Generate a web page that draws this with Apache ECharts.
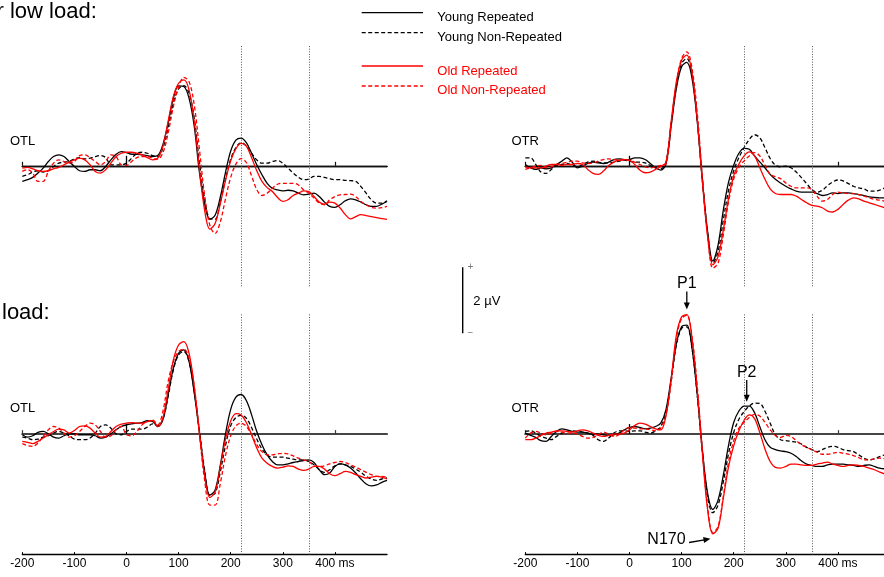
<!DOCTYPE html>
<html><head><meta charset="utf-8">
<script src="https://cdn.jsdelivr.net/npm/echarts@6/dist/echarts.min.js"></script>
<style>html,body{margin:0;padding:0;background:#fff}#c{width:884px;height:577px}</style>
</head><body><div id="c"></div>
<script>
// ---------- DATA ----------
const times = [-200,-190,-180,-170,-160,-150,-140,-130,-120,-110,-100,-90,-80,-70,-60,-50,-40,-30,-20,-10,0,10,20,30,40,50,60,70,80,90,100,110,120,130,140,150,160,170,180,190,200,210,220,230,240,250,260,270,280,290,300,310,320,330,340,350,360,370,380,390,400,410,420,430,440,450,460,470,480,490,500];
const xTicks = [-200,-100,0,100,200,300,400];
const zeroTicksSmall = [-200,400];
const zeroTickMain = [0];
const markerTimes = [220,350];
const seriesNames = ['Young Repeated','Young Non-Repeated','Old Repeated','Old Non-Repeated'];
const panelLabels = ['OTL','OTR','OTL','OTR'];
const loadTitles = ['r low load:','load:'];
const annotNames = ['P1','P2','N170'];
const annotTimes = [110,225,160];
const annotValues = [3.62,0.86,-3.02];
const scaleBarValue = 2;

// top-left (OTL, low load)
const TL_YR = [-0.47,-0.42,-0.35,-0.22,-0.07,0.13,0.28,0.33,0.28,0.13,
 -0.02,-0.15,-0.17,-0.12,-0.12,-0.15,-0.02,0.18,0.35,0.43,
 0.40,0.35,0.35,0.33,0.31,0.28,0.31,0.65,1.30,2.05,
 2.42,2.40,2.05,1.20,-0.20,-1.15,-1.62,-1.50,-0.95,-0.20,
 0.45,0.78,0.84,0.70,0.38,0.03,-0.27,-0.53,-0.68,-0.73,
 -0.76,-0.74,-0.76,-0.83,-0.88,-0.86,-0.83,-0.93,-1.10,-1.23,
 -1.26,-1.18,-1.06,-1.00,-1.03,-1.10,-1.18,-1.23,-1.23,-1.16,
 -1.08];
const TL_YN = [-0.32,-0.27,-0.19,-0.15,-0.19,-0.15,-0.02,0.08,0.11,0.13,
 0.21,0.25,0.21,0.23,0.28,0.31,0.25,0.03,0.03,0.03,
 0.08,0.23,0.38,0.41,0.38,0.31,0.28,0.55,1.15,1.90,
 2.33,2.43,2.20,1.45,0.10,-1.00,-1.60,-1.62,-1.10,-0.40,
 0.20,0.55,0.70,0.60,0.38,0.18,0.08,0.08,0.13,0.16,
 0.08,-0.07,-0.22,-0.35,-0.42,-0.40,-0.32,-0.32,-0.35,-0.39,
 -0.42,-0.42,-0.44,-0.45,-0.47,-0.63,-0.83,-1.03,-1.13,-1.13,
 -1.06];
const TL_OR = [-0.07,-0.05,-0.09,-0.15,-0.17,-0.15,-0.09,-0.05,0.03,0.11,
 0.18,0.23,0.18,0.03,-0.17,-0.22,-0.12,0.08,0.28,0.38,
 0.41,0.41,0.38,0.33,0.25,0.18,0.23,0.60,1.35,2.10,
 2.50,2.60,2.30,1.35,-0.10,-1.35,-1.92,-1.75,-1.15,-0.45,
 0.15,0.52,0.68,0.60,0.25,-0.15,-0.47,-0.66,-0.78,-0.96,
 -1.08,-1.03,-0.90,-0.83,-0.76,-0.78,-0.93,-1.10,-1.16,-1.10,
 -1.13,-1.28,-1.48,-1.61,-1.54,-1.48,-1.51,-1.54,-1.57,-1.60,
 -1.62];
const TL_ON = [-0.17,-0.12,-0.22,-0.47,-0.47,-0.17,0.08,0.18,0.13,0.08,
 0.13,0.31,0.33,0.25,0.13,0.03,0.13,0.33,0.28,0.03,
 0.01,0.13,0.25,0.28,0.28,0.23,0.20,0.40,1.00,1.80,
 2.38,2.68,2.55,1.85,0.50,-0.90,-1.80,-2.05,-1.70,-1.00,
 -0.35,0.05,0.22,0.10,-0.30,-0.72,-0.90,-0.83,-0.68,-0.56,
 -0.53,-0.53,-0.53,-0.58,-0.73,-0.83,-0.98,-1.13,-1.18,-1.03,
 -0.93,-0.88,-0.87,-0.86,-0.93,-1.08,-1.18,-1.26,-1.28,-1.27,
 -1.23];
// top-right (OTR, low load)
const TR_YR = [0.04,-0.06,-0.11,-0.06,-0.09,-0.06,0.04,0.14,0.24,0.11,
 -0.06,-0.01,0.07,0.11,0.09,0.07,0.11,0.19,0.21,0.19,
 0.19,0.24,0.24,0.19,0.07,-0.06,-0.13,0.05,1.20,2.35,
 3.00,3.13,2.65,1.35,-0.45,-2.00,-2.88,-2.40,-1.35,-0.50,
 0.02,0.38,0.53,0.50,0.30,0.12,-0.06,-0.26,-0.41,-0.52,
 -0.62,-0.70,-0.77,-0.80,-0.80,-0.80,-0.84,-0.90,-0.87,-0.82,
 -0.84,-0.82,-0.82,-0.84,-0.87,-0.90,-0.94,-0.96,-0.97,-0.97,
 -0.97];
const TR_YN = [0.24,0.24,0.04,-0.19,-0.23,-0.11,0.01,0.04,0.07,0.01,
 -0.03,0.04,0.11,0.14,0.11,0.09,0.09,0.11,0.14,0.17,
 0.14,0.11,0.11,0.09,0.01,-0.06,-0.09,0.10,1.30,2.45,
 3.10,3.25,2.75,1.40,-0.45,-2.05,-2.95,-2.60,-1.65,-0.75,
 -0.15,0.25,0.55,0.80,0.94,0.85,0.55,0.22,0.02,-0.03,
 -0.01,-0.06,-0.19,-0.36,-0.54,-0.72,-0.80,-0.74,-0.60,-0.49,
 -0.43,-0.46,-0.54,-0.62,-0.67,-0.70,-0.77,-0.77,-0.74,-0.67,
 -0.62];
const TR_OR = [-0.03,-0.06,-0.06,-0.06,-0.01,0.04,0.04,0.01,0.04,0.04,
 0.07,0.04,-0.11,-0.23,-0.26,-0.16,0.01,0.11,0.17,0.19,
 0.17,0.04,-0.13,-0.21,-0.19,-0.11,-0.02,0.10,1.35,2.55,
 3.20,3.35,2.80,1.40,-0.50,-2.15,-3.00,-2.75,-1.95,-1.00,
 -0.30,0.05,0.30,0.42,0.30,-0.05,-0.41,-0.70,-0.84,-0.87,
 -0.87,-0.87,-0.92,-1.02,-1.12,-1.20,-1.22,-1.27,-1.37,-1.40,
 -1.32,-1.17,-1.04,-0.97,-1.00,-1.07,-1.12,-1.17,-1.22,-1.27,
 -1.30];
const TR_ON = [-0.11,-0.06,-0.01,0.01,-0.06,-0.03,0.04,0.07,0.11,0.14,
 0.14,0.09,0.07,0.09,0.14,0.19,0.21,0.19,0.17,0.17,
 0.17,0.11,0.04,-0.03,-0.06,-0.03,0.01,0.05,1.25,2.50,
 3.25,3.45,2.95,1.60,-0.35,-2.10,-3.10,-2.95,-2.10,-1.10,
 -0.40,-0.05,0.15,0.30,0.40,0.30,0.02,-0.26,-0.33,-0.39,
 -0.52,-0.62,-0.67,-0.67,-0.67,-0.72,-0.92,-1.07,-1.02,-0.87,
 -0.80,-0.82,-0.84,-0.84,-0.87,-0.92,-0.97,-1.02,-1.04,-1.07,
 -1.10];
// bottom-left (OTL, high load)
const BL_YR = [-0.02,-0.09,-0.05,0.05,0.08,0.01,-0.09,-0.12,-0.05,0.01,
 0.01,-0.02,-0.02,-0.02,-0.05,-0.12,-0.09,0.01,0.13,0.23,
 0.28,0.31,0.33,0.35,0.41,0.38,0.23,0.45,1.20,2.00,
 2.45,2.55,2.20,1.25,0.05,-1.15,-1.85,-1.70,-0.95,0.00,
 0.75,1.12,1.20,1.02,0.59,0.08,-0.32,-0.63,-0.83,-0.93,
 -0.93,-0.90,-0.86,-0.83,-0.80,-0.78,-0.86,-1.08,-1.23,-1.18,
 -0.98,-0.90,-0.93,-1.03,-1.18,-1.36,-1.51,-1.57,-1.54,-1.46,
 -1.40];
const BL_YN = [-0.09,-0.12,-0.17,-0.15,-0.09,-0.05,0.03,0.08,0.03,-0.05,
 -0.15,-0.17,-0.17,-0.12,0.03,0.23,0.28,0.18,0.01,-0.02,
 0.08,0.15,0.15,0.15,0.21,0.31,0.25,0.45,1.15,1.95,
 2.40,2.50,2.20,1.30,0.10,-1.10,-1.85,-1.80,-1.15,-0.35,
 0.25,0.50,0.57,0.48,0.20,-0.15,-0.45,-0.63,-0.70,-0.70,
 -0.70,-0.73,-0.76,-0.78,-0.78,-0.83,-0.93,-1.08,-1.16,-1.08,
 -0.96,-0.90,-0.93,-0.98,-1.06,-1.16,-1.28,-1.36,-1.40,-1.36,
 -1.33];
const BL_OR = [-0.22,-0.25,-0.29,-0.22,-0.12,-0.02,0.08,0.15,0.13,0.03,
 0.11,0.23,0.25,0.18,0.03,-0.09,-0.07,0.08,0.23,0.30,
 0.33,0.35,0.33,0.33,0.38,0.41,0.23,0.50,1.35,2.25,
 2.70,2.80,2.45,1.45,0.05,-1.25,-1.92,-1.75,-1.00,-0.15,
 0.40,0.62,0.58,0.35,-0.02,-0.42,-0.73,-0.88,-0.98,-1.03,
 -1.00,-0.96,-0.98,-1.06,-1.10,-1.06,-0.98,-0.98,-1.06,-1.20,
 -1.26,-1.20,-1.13,-1.16,-1.23,-1.28,-1.33,-1.30,-1.28,-1.30,
 -1.36];
const BL_ON = [-0.29,-0.35,-0.37,-0.27,-0.07,0.13,0.23,0.18,0.03,-0.09,
 -0.05,0.08,0.23,0.33,0.28,0.08,-0.09,-0.05,0.13,0.23,
 -0.02,-0.05,0.08,0.28,0.38,0.43,0.28,0.70,1.60,2.20,
 2.50,2.57,2.30,1.45,0.00,-1.40,-2.15,-2.15,-1.50,-0.65,
 -0.05,0.25,0.33,0.23,-0.02,-0.32,-0.53,-0.63,-0.63,-0.60,
 -0.58,-0.60,-0.66,-0.73,-0.78,-0.83,-0.96,-0.98,-0.96,-0.90,
 -0.86,-0.83,-0.86,-0.93,-1.00,-1.08,-1.16,-1.23,-1.28,-1.28,
 -1.30];
// bottom-right (OTR, high load)
const BR_YR = [0.03,-0.04,-0.10,-0.20,-0.22,-0.07,0.08,0.16,0.13,0.08,
 0.06,0.06,0.03,0.00,0.00,-0.02,-0.04,-0.02,0.03,0.13,
 0.20,0.23,0.20,0.16,0.18,0.23,0.33,0.74,1.70,2.75,
 3.25,3.30,2.60,1.20,-0.50,-1.80,-2.28,-2.00,-1.25,-0.35,
 0.35,0.70,0.85,0.85,0.65,0.23,-0.17,-0.40,-0.47,-0.51,
 -0.53,-0.58,-0.68,-0.81,-0.91,-0.95,-0.98,-0.98,-0.93,-0.91,
 -0.91,-0.91,-0.93,-0.95,-0.98,-0.95,-0.93,-0.98,-1.03,-1.05,
 -1.05];
const BR_YN = [0.08,0.10,0.03,-0.07,-0.12,-0.17,-0.07,0.03,0.08,0.10,
 0.08,0.06,0.03,-0.04,-0.17,-0.22,-0.12,0.03,0.10,0.10,
 0.08,0.10,0.10,0.06,0.03,0.10,0.23,0.65,1.60,2.70,
 3.20,3.25,2.60,1.20,-0.55,-1.90,-2.38,-2.15,-1.45,-0.60,
 0.05,0.45,0.68,0.85,0.94,0.93,0.69,0.33,-0.02,-0.17,
 -0.20,-0.22,-0.24,-0.30,-0.40,-0.47,-0.53,-0.47,-0.40,-0.37,
 -0.40,-0.47,-0.50,-0.53,-0.63,-0.73,-0.78,-0.75,-0.68,-0.63,
 -0.61];
const BR_OR = [-0.17,-0.17,-0.12,-0.04,0.03,0.06,0.10,0.10,0.08,0.06,
 0.10,0.13,0.10,0.03,-0.04,-0.07,-0.04,0.00,0.00,0.03,
 0.13,0.26,0.33,0.30,0.23,0.16,0.13,0.55,1.65,3.00,
 3.55,3.62,2.90,1.35,-0.60,-2.30,-3.02,-2.85,-1.95,-1.00,
 -0.35,0.10,0.42,0.58,0.47,0.05,-0.45,-0.83,-1.01,-1.03,
 -0.98,-0.91,-0.91,-0.93,-0.95,-0.95,-0.91,-0.88,-0.85,-0.91,
 -0.95,-0.98,-0.95,-0.93,-0.95,-0.98,-1.03,-1.08,-1.15,-1.21,
 -1.25];
const BR_ON = [-0.12,0.03,0.08,0.03,-0.02,0.03,0.08,0.06,0.03,0.03,
 0.00,-0.07,-0.12,-0.10,-0.02,0.06,0.00,-0.07,-0.02,0.13,
 0.20,0.18,0.16,0.16,0.13,0.10,0.18,0.59,1.60,2.90,
 3.50,3.60,2.95,1.45,-0.50,-2.20,-2.98,-2.80,-1.90,-0.85,
 -0.20,0.18,0.36,0.50,0.60,0.55,0.36,0.13,-0.04,-0.10,
 -0.04,-0.07,-0.20,-0.32,-0.40,-0.47,-0.55,-0.61,-0.61,-0.58,
 -0.55,-0.58,-0.61,-0.65,-0.71,-0.78,-0.78,-0.75,-0.73,-0.75,
 -0.80];

// ---------- LAYOUT / STYLE ----------
const panels = [[TL_YR,TL_YN,TL_OR,TL_ON],[TR_YR,TR_YN,TR_OR,TR_ON],[BL_YR,BL_YN,BL_OR,BL_ON],[BR_YR,BR_YN,BR_OR,BR_ON]];
const FONT = 'Liberation Sans, Arial, Helvetica, sans-serif';
const gridBoxes = [{left:22.3,top:45.3},{left:525.3,top:45.3},{left:22.3,top:313.6},{left:525.3,top:313.6}];
const GW = 364.7, GH = 241, YMAX = 3.65;
const lineColors = ['#000000','#000000','#ff0000','#ff0000'];
const lineDash = ['solid',[4,2.5],'solid',[4,2.5]];

const chart = echarts.init(document.getElementById('c'), null, {renderer:'canvas'});
const grid = [], xAxis = [], yAxis = [], series = [];
gridBoxes.forEach((b, g) => {
  grid.push({left:b.left, top:b.top, width:GW, height:GH, containLabel:false, outerBoundsMode:'none'});
  yAxis.push({gridIndex:g, type:'value', min:-YMAX, max:YMAX, show:false});
  const isBottom = g >= 2;
  const zeroColor = isBottom ? '#3a3a3a' : '#111';
  const zeroWidth = isBottom ? 1.7 : 1.4;
  // main bottom axis
  xAxis.push({gridIndex:g, type:'value', min:-200, max:500, show:isBottom, position:'bottom',
    axisLine:{show:true, onZero:false, lineStyle:{color:'#000', width:1.3}},
    axisTick:{show:true, inside:true, length:2.5, customValues:xTicks, lineStyle:{color:'#000', width:1}},
    axisLabel:{show:true, customValues:xTicks, margin:3, fontSize:12, color:'#000', fontFamily:FONT,
      formatter:(v)=> v === 400 ? '400 ms' : String(v)},
    splitLine:{show:false}});
  // zero line with small ticks
  xAxis.push({gridIndex:g, type:'value', min:-200, max:500, position:'bottom',
    axisLine:{show:true, onZero:true, onZeroAxisIndex:g, lineStyle:{color:zeroColor, width:zeroWidth}},
    axisTick:{show:true, inside:true, length:4, customValues:zeroTicksSmall, lineStyle:{color:zeroColor, width:1.2}},
    axisLabel:{show:false}, splitLine:{show:false}});
  // long tick at stimulus onset
  xAxis.push({gridIndex:g, type:'value', min:-200, max:500, position:'bottom',
    axisLine:{show:true, onZero:true, onZeroAxisIndex:g, lineStyle:{color:zeroColor, width:zeroWidth}},
    axisTick:{show:true, inside:true, length:10, customValues:zeroTickMain, lineStyle:{color:'#000', width:1.3}},
    axisLabel:{show:false}, splitLine:{show:false}});
  panels[g].forEach((arr, s) => {
    const ser = {
      name: seriesNames[s], type:'line', xAxisIndex:3*g, yAxisIndex:g,
      data: times.map((t,i)=>[t, arr[i]]),
      showSymbol:false, smooth:0.35, animation:false, silent:true,
      lineStyle:{color:lineColors[s], width:1.3, type:lineDash[s]},
      z: 3 + s
    };
    if (s === 0) {
      ser.markLine = {silent:true, symbol:['none','none'], label:{show:false}, animation:false,
        lineStyle:{color:'#555', width:1, type:[1,1.6]},
        data: markerTimes.map(t=>({xAxis:t}))};
    }
    series.push(ser);
  });
});

chart.setOption({animation:false, backgroundColor:'#fff', grid, xAxis, yAxis, series});

// ---------- TEXT / DECORATIONS ----------
const G = [];
const txt = (text, x, y, size, color, align, extra) => G.push(Object.assign({type:'text', x, y, silent:true, z:100,
  style:{text, font: size + 'px ' + FONT, fill:color, textAlign:align||'left', textVerticalAlign:'middle', align:align||'left', verticalAlign:'middle'}}, extra||{}));
const seg = (x1,y1,x2,y2,color,w,dash) => G.push({type:'line', silent:true, z:100, shape:{x1,y1,x2,y2}, style:{stroke:color, lineWidth:w, lineDash:dash||null}});
const arrowHead = (x1,y1,x2,y2,color) => { // head at (x2,y2)
  const dx=x2-x1, dy=y2-y1, L=Math.hypot(dx,dy), ux=dx/L, uy=dy/L, hl=7, hw=3;
  const bx=x2-ux*hl, by=y2-uy*hl;
  G.push({type:'polygon', silent:true, z:100, shape:{points:[[x2,y2],[bx-uy*hw,by+ux*hw],[bx+uy*hw,by-ux*hw]]}, style:{fill:color}});
  seg(x1,y1,bx+ux*1,by+uy*1,color,1.3);
};

// load titles
txt(loadTitles[0], -3.5, 11.5, 22, '#000');
txt(loadTitles[1], 2, 313, 22, '#000');
// panel labels
txt(panelLabels[0], 10, 141, 13, '#000');
txt(panelLabels[1], 511.5, 141, 13, '#000');
txt(panelLabels[2], 10, 408.7, 13, '#000');
txt(panelLabels[3], 511.5, 408.3, 13, '#000');

// legend
const legendY = [12.7, 32.7, 66, 86];
const legendTextY = [17.6, 37.6, 71.4, 90.8];
seriesNames.forEach((n, i) => {
  seg(361.7, legendY[i], 423, legendY[i], lineColors[i], 1.3, lineDash[i] === 'solid' ? null : lineDash[i]);
  txt(n, 437.3, legendTextY[i], 13, lineColors[i]);
});

// scale bar from y-axis scale of lower-right panel
const py0 = chart.convertToPixel({yAxisIndex:3}, 0);
const py2 = chart.convertToPixel({yAxisIndex:3}, scaleBarValue);
const barLen = py0 - py2;
const barTop = 267.3, barX = 462.7;
seg(barX, barTop, barX, barTop + barLen, '#000', 1.4);
txt('+', 470.3, barTop, 10, '#777', 'center');
txt('\u2212', 470.3, barTop + barLen, 10, '#777', 'center');
txt(scaleBarValue + ' \u00b5V', 473.3, barTop + barLen/2 + 1.5, 13, '#000');

// component annotations (lower-right panel)
const a = annotNames.map((n,i)=> chart.convertToPixel({gridIndex:3}, [annotTimes[i], annotValues[i]]));
// P1
{ const [x,y] = a[0]; const tip = y - 5;
  arrowHead(x, tip - 18, x, tip, '#000'); txt(annotNames[0], x, tip - 26, 16, '#000', 'center'); }
// P2
{ const [x,y] = a[1]; const tip = y - 4;
  arrowHead(x, tip - 21.7, x, tip, '#000'); txt(annotNames[1], x, tip - 29, 16, '#000', 'center'); }
// N170
{ const [x,y] = a[2]; const tx = x - 2.4, ty = y + 5;
  arrowHead(tx - 21.4, ty + 3.7, tx, ty, '#000'); txt(annotNames[2], tx - 44, ty + 0.4, 16, '#000', 'center'); }

chart.setOption({graphic: G});
</script>
</body></html>
